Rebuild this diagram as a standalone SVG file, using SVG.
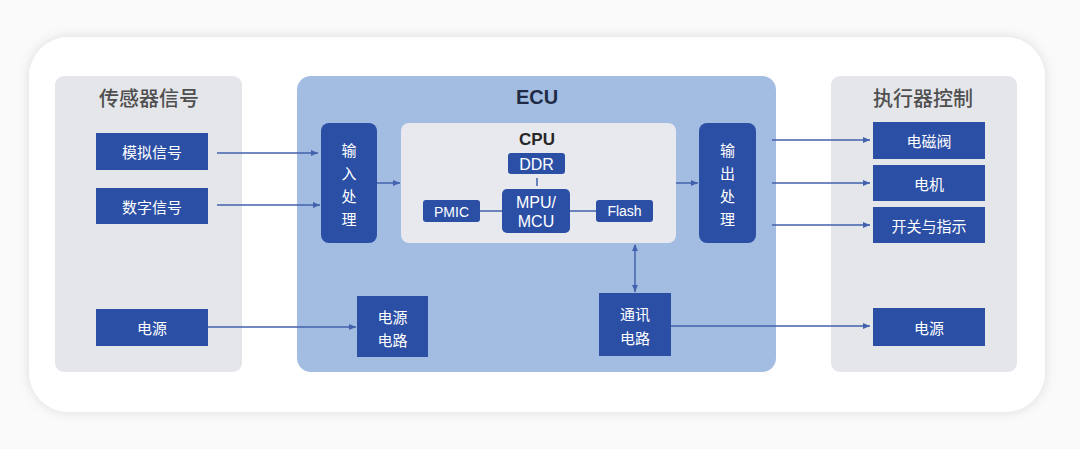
<svg xmlns="http://www.w3.org/2000/svg" width="1080" height="449" viewBox="0 0 1080 449">
<defs>
<filter id="sh" x="-5%" y="-10%" width="110%" height="120%">
<feDropShadow dx="0" dy="0" stdDeviation="6" flood-color="#000" flood-opacity="0.12"/>
</filter>
<marker id="ah" markerWidth="8" markerHeight="8" refX="7" refY="4" orient="auto" markerUnits="userSpaceOnUse">
<path d="M0,1 L7,4 L0,7 Z" fill="#4262ad"/>
</marker>
<marker id="ahs" markerWidth="8" markerHeight="8" refX="1" refY="4" orient="auto" markerUnits="userSpaceOnUse">
<path d="M7,1 L0,4 L7,7 Z" fill="#4262ad"/>
</marker>
</defs>
<style>
.panel{fill:#e4e6ea}
.blue{fill:#2c4fa6}
.t{font-family:"Noto Sans CJK SC","Liberation Sans",sans-serif;text-anchor:middle;dominant-baseline:central}
.w{fill:#ffffff;font-size:15px}
.wl{fill:#ffffff;font-size:16px;font-family:"Liberation Sans","Noto Sans CJK SC",sans-serif}
.title{fill:#4f4f4f;font-size:20px;font-weight:500}
.ln{stroke:#4262ad;stroke-width:1.5;fill:none}
.arr{stroke:#4262ad;stroke-width:1.5;fill:none;marker-end:url(#ah)}
</style>
<rect x="0" y="0" width="1080" height="449" fill="#fafafa"/>
<rect id="card" x="29" y="37" width="1016" height="375" rx="40" fill="#ffffff" filter="url(#sh)"/>

<g id="sensors">
<rect class="panel" x="55" y="76" width="187" height="296" rx="9"/>
<text class="t title" x="149" y="97">传感器信号</text>
</g>
<g id="analog"><rect class="blue" x="96" y="133" width="112" height="37"/><text class="t w" x="152" y="151.5">模拟信号</text></g>
<g id="digital"><rect class="blue" x="96" y="188" width="112" height="36"/><text class="t w" x="152" y="206">数字信号</text></g>
<g id="power-in"><rect class="blue" x="96" y="309" width="112" height="37"/><text class="t w" x="152" y="327.5">电源</text></g>

<g id="ecu">
<rect x="297" y="76" width="479" height="296" rx="14" fill="#a3bde2"/>
<text class="t" x="537" y="97" font-size="20" font-weight="bold" fill="#1f2b45" style="font-family:'Liberation Sans',sans-serif">ECU</text>
</g>
<g id="input-proc"><rect class="blue" x="321" y="123" width="56" height="120" rx="8"/>
<text class="t w" x="349" y="149">输</text><text class="t w" x="349" y="172">入</text><text class="t w" x="349" y="195">处</text><text class="t w" x="349" y="218">理</text></g>
<g id="cpu"><rect x="401" y="123" width="275" height="120" rx="8" fill="#e7e9ee"/>
<text class="t" x="537" y="139" font-size="17" font-weight="bold" fill="#262626" style="font-family:'Liberation Sans',sans-serif">CPU</text></g>
<g id="ddr"><rect class="blue" x="508" y="153" width="57" height="21" rx="3"/><text class="t wl" x="536.5" y="164">DDR</text></g>
<g id="mpu"><rect class="blue" x="502" y="189" width="68" height="44" rx="5"/><text class="t wl" x="536" y="202">MPU/</text><text class="t wl" x="536" y="221">MCU</text></g>
<g id="pmic"><rect class="blue" x="423" y="200" width="57" height="22" rx="3"/><text class="t wl" x="451.5" y="211.5" font-size="14" style="font-size:14px">PMIC</text></g>
<g id="flash"><rect class="blue" x="596" y="200" width="57" height="22" rx="3"/><text class="t wl" x="624.5" y="211" style="font-size:14px">Flash</text></g>
<g id="output-proc"><rect class="blue" x="699" y="123" width="57" height="120" rx="8"/>
<text class="t w" x="727.5" y="149">输</text><text class="t w" x="727.5" y="172">出</text><text class="t w" x="727.5" y="195">处</text><text class="t w" x="727.5" y="218">理</text></g>
<g id="power-circuit"><rect class="blue" x="357" y="296" width="71" height="61"/><text class="t w" x="392.5" y="316">电源</text><text class="t w" x="392.5" y="339">电路</text></g>
<g id="comm-circuit"><rect class="blue" x="599" y="293" width="72" height="63"/><text class="t w" x="635" y="313">通讯</text><text class="t w" x="635" y="337">电路</text></g>

<g id="actuators">
<rect class="panel" x="831" y="76" width="186" height="296" rx="9"/>
<text class="t title" x="923" y="97">执行器控制</text>
</g>
<g id="valve"><rect class="blue" x="873" y="122" width="112" height="37"/><text class="t w" x="929" y="140.5">电磁阀</text></g>
<g id="motor"><rect class="blue" x="873" y="165" width="112" height="36"/><text class="t w" x="929" y="183">电机</text></g>
<g id="switch"><rect class="blue" x="873" y="207" width="112" height="36"/><text class="t w" x="929" y="225">开关与指示</text></g>
<g id="power-out"><rect class="blue" x="873" y="308" width="112" height="38"/><text class="t w" x="929" y="327">电源</text></g>

<g id="connectors">
<line class="arr" x1="217" y1="153" x2="318" y2="153"/>
<line class="arr" x1="217" y1="205" x2="320" y2="205"/>
<line class="arr" x1="208" y1="327" x2="356" y2="327"/>
<line class="arr" x1="377" y1="183" x2="400" y2="183"/>
<line class="arr" x1="676" y1="183" x2="698" y2="183"/>
<line class="ln" x1="537" y1="178" x2="537" y2="186"/>
<line class="ln" x1="480" y1="211" x2="502" y2="211"/>
<line class="ln" x1="570" y1="211" x2="596" y2="211"/>
<line class="arr" x1="635" y1="245" x2="635" y2="292" style="marker-start:url(#ahs)"/>
<line class="arr" x1="772" y1="140" x2="870" y2="140"/>
<line class="arr" x1="772" y1="183" x2="870" y2="183"/>
<line class="arr" x1="772" y1="225" x2="870" y2="225"/>
<line class="arr" x1="671" y1="326" x2="870" y2="326"/>
</g>
</svg>
